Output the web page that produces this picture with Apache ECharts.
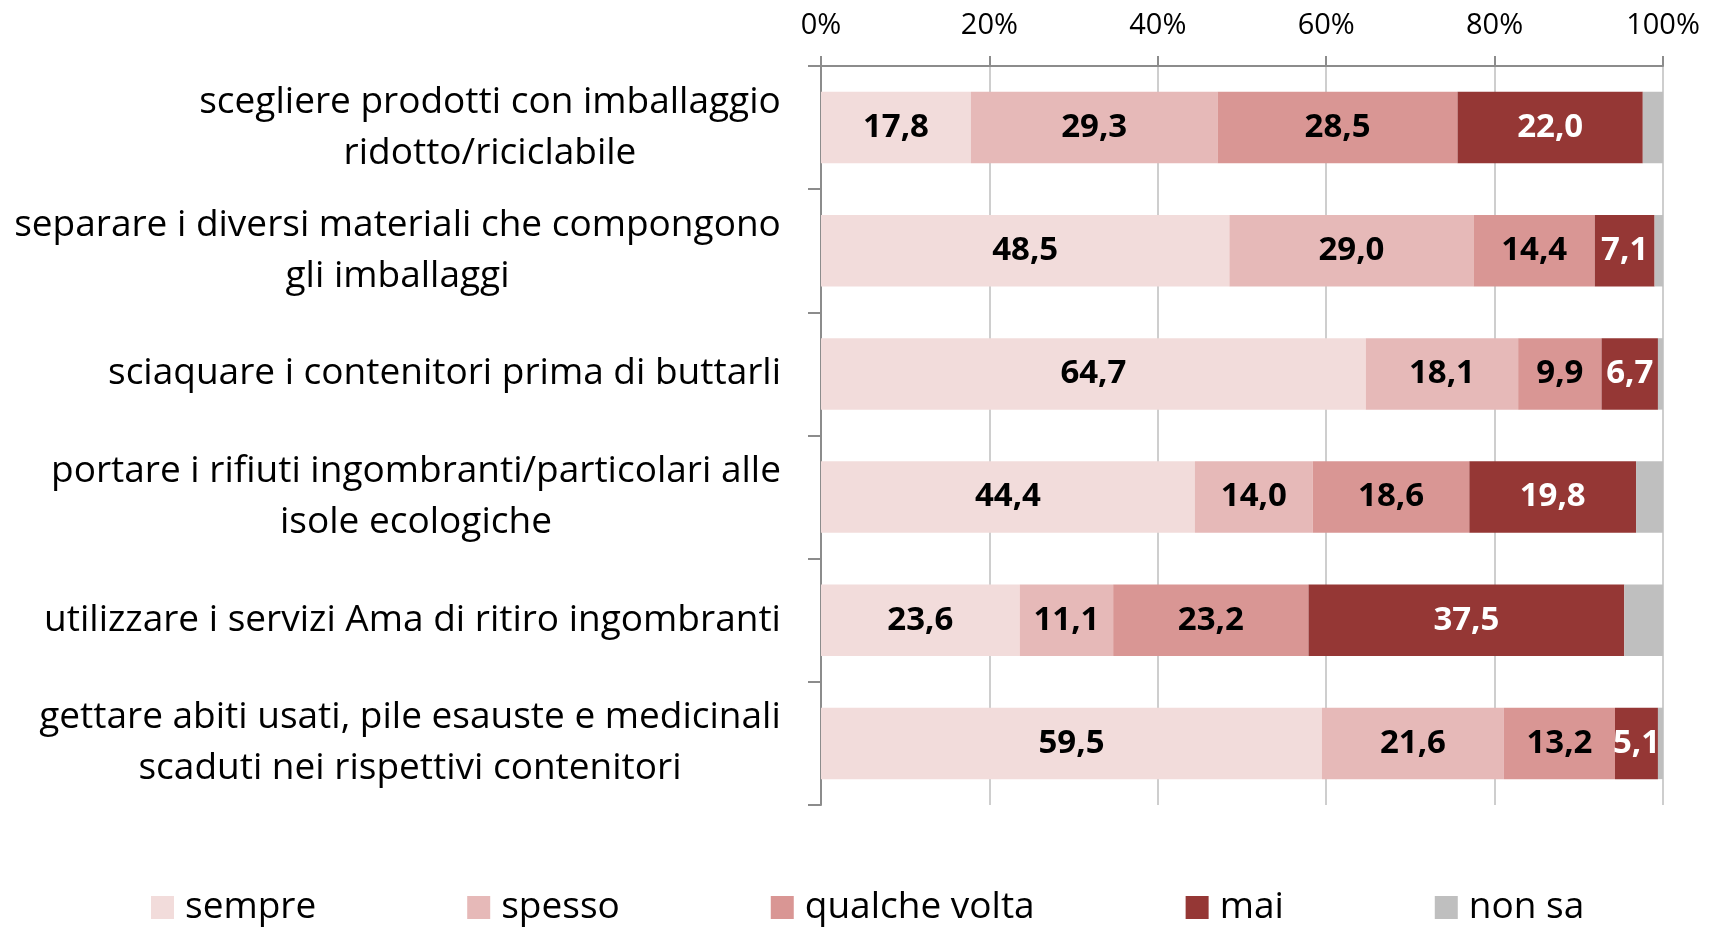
<!DOCTYPE html>
<html>
<head>
<meta charset="utf-8">
<script src="https://cdn.jsdelivr.net/npm/echarts@6/dist/echarts.min.js"></script>
<style>html,body{margin:0;padding:0;background:#fff}#c{width:1713px;height:927px}</style>
</head>
<body>
<div id="c"></div>
<script>
var categories = [
  "scegliere prodotti con imballaggio\nridotto/riciclabile",
  "separare i diversi materiali che compongono\ngli imballaggi",
  "sciaquare i contenitori prima di buttarli",
  "portare i rifiuti ingombranti/particolari alle\nisole ecologiche",
  "utilizzare i servizi Ama di ritiro ingombranti",
  "gettare abiti usati, pile esauste e medicinali\nscaduti nei rispettivi contenitori"
];
var seriesNames = ["sempre", "spesso", "qualche volta", "mai", "non sa"];
var sempre = [17.8, 48.5, 64.7, 44.4, 23.6, 59.5];
var spesso = [29.3, 29.0, 18.1, 14.0, 11.1, 21.6];
var qualcheVolta = [28.5, 14.4, 9.9, 18.6, 23.2, 13.2];
var mai = [22.0, 7.1, 6.7, 19.8, 37.5, 5.1];
var nonSa = [2.4, 1.0, 0.6, 3.2, 4.6, 0.6];
var tickLabels = ["0%", "20%", "40%", "60%", "80%", "100%"];

var colors = ["#F2DCDB", "#E6B9B8", "#D99694", "#953735", "#BFBFBF"];
var labelColors = ["#000", "#000", "#000", "#fff", null];
var FONT = "'Open Sans', sans-serif";
var catSize = 37;

var cv = document.createElement('canvas').getContext('2d');
cv.font = catSize + "px 'Open Sans'";
var catData = categories.map(function (c) {
  var lines = c.split('\n');
  var w = Math.max.apply(null, lines.map(function (l) { return cv.measureText(l).width; }));
  return { value: c, textStyle: { align: 'center', padding: [0, Math.ceil(w), 0, 0] } };
});

var allData = [sempre, spesso, qualcheVolta, mai, nonSa];
var series = seriesNames.map(function (n, i) {
  return {
    name: n, type: 'bar', stack: 'tot', barWidth: '58%',
    data: allData[i],
    itemStyle: { color: colors[i] },
    label: {
      show: i < 4, position: 'inside', color: labelColors[i] || '#000',
      fontFamily: FONT, fontWeight: 'bold', fontSize: 33,
      formatter: function (p) { return p.value.toFixed(1).replace('.', ','); }
    }
  };
});

var chart = echarts.init(document.getElementById('c'));
chart.setOption({
  animation: false,
  textStyle: { fontFamily: FONT },
  grid: { left: 821, right: 50, top: 66, bottom: 122, containLabel: false },
  legend: {
    left: 146, top: 884, itemWidth: 23, itemHeight: 23, itemGap: 151,
    icon: 'rect',
    textStyle: { fontFamily: FONT, fontSize: 37, color: '#000', padding: [0, 0, 0, 6] },
    data: seriesNames
  },
  xAxis: {
    type: 'value', position: 'top', min: 0, max: 100, interval: 20,
    axisLine: { show: true, lineStyle: { color: '#8C8C8C', width: 2 } },
    axisTick: { show: true, length: 10, lineStyle: { color: '#8C8C8C', width: 2 } },
    splitLine: { show: true, lineStyle: { color: '#BEBEBE', width: 1.5 } },
    axisLabel: {
      color: '#000', fontSize: 29, fontFamily: FONT, margin: 26,
      formatter: function (v) { return tickLabels[Math.round(v / 20)]; }
    }
  },
  yAxis: {
    type: 'category', inverse: true, data: catData,
    axisLine: { show: true, lineStyle: { color: '#8C8C8C', width: 2 } },
    axisTick: { show: true, length: 13, lineStyle: { color: '#8C8C8C', width: 2 } },
    axisLabel: {
      color: '#000', fontSize: catSize, fontFamily: FONT, margin: 40, lineHeight: 51
    }
  },
  series: series
});
</script>
</body>
</html>
